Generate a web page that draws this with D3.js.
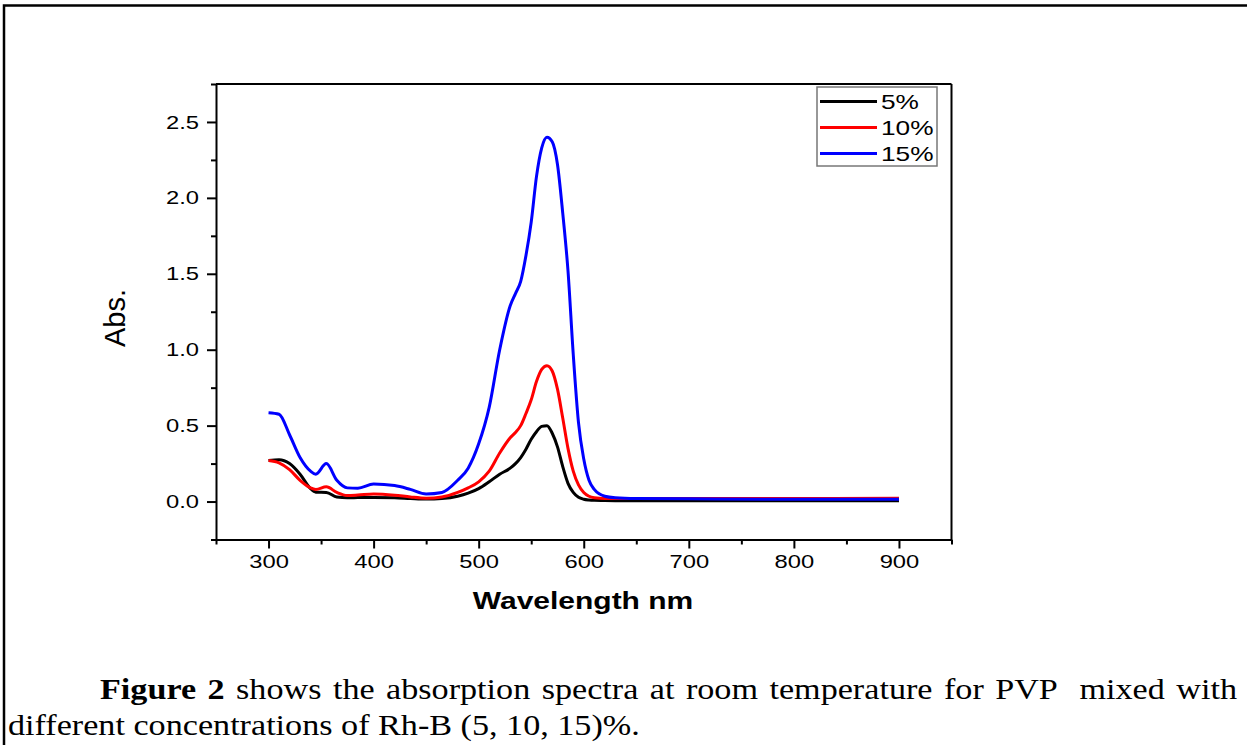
<!DOCTYPE html>
<html>
<head>
<meta charset="utf-8">
<script src="https://cdn.jsdelivr.net/npm/d3@7"></script>
<style>
  body { margin: 0; background: #fff; }
  svg { display: block; }
</style>
</head>
<body>
<script>
// absorption spectra
const wavelength = [300, 310, 320, 330, 340, 345, 355, 365, 375, 385, 400, 420, 435, 450, 465, 480, 490, 500, 510, 520,
  530, 535, 540, 545, 550, 555, 560, 565, 570, 575, 580, 585, 590, 595, 600, 605, 610, 620, 630, 650, 700, 800, 900];
const abs5 = [0.27, 0.275, 0.25, 0.18, 0.085, 0.062, 0.06, 0.03, 0.025, 0.026, 0.027, 0.025, 0.02, 0.016, 0.02, 0.035, 0.055, 0.085, 0.13, 0.18,
  0.22, 0.25, 0.29, 0.345, 0.41, 0.46, 0.495, 0.50, 0.45, 0.36, 0.23, 0.12, 0.06, 0.028, 0.015, 0.01, 0.008, 0.007, 0.006, 0.005, 0.005, 0.005, 0.005];
const abs10 = [0.27, 0.255, 0.21, 0.14, 0.09, 0.08, 0.097, 0.06, 0.04, 0.043, 0.05, 0.042, 0.03, 0.022, 0.03, 0.06, 0.09, 0.13, 0.2, 0.32,
  0.42, 0.455, 0.50, 0.58, 0.67, 0.79, 0.87, 0.895, 0.86, 0.74, 0.55, 0.35, 0.2, 0.11, 0.06, 0.035, 0.025, 0.02, 0.02, 0.02, 0.02, 0.02, 0.022];
const abs15 = [0.585, 0.575, 0.44, 0.29, 0.20, 0.18, 0.25, 0.14, 0.09, 0.088, 0.115, 0.105, 0.08, 0.05, 0.06, 0.14, 0.22, 0.38, 0.62, 1.0,
  1.29, 1.37, 1.45, 1.62, 1.84, 2.14, 2.33, 2.40, 2.37, 2.22, 1.90, 1.52, 0.97, 0.52, 0.28, 0.14, 0.08, 0.035, 0.025, 0.02, 0.018, 0.015, 0.015];

const seriesNames = ["5%", "10%", "15%"];
const seriesColors = ["#000000", "#ff0000", "#0000ff"];

const xTicks = [300, 400, 500, 600, 700, 800, 900];
const yTicks = [0, 0.5, 1.0, 1.5, 2.0, 2.5];

const xLabel = "Wavelength nm";
const yLabel = "Abs.";
const captionBold = "Figure 2";
const captionRest = " shows the absorption spectra at room temperature for PVP  mixed with";
const captionLine2 = "different concentrations of Rh-B (5, 10, 15)%.";

const W = 1247, H = 745;
const plotLeft = 216, plotRight = 951.5, plotTop = 84, plotBottom = 539.5;
// the page image is a bit wider than tall, so horizontal chart text is stretched
const k = 1.25;

const svg = d3.select("body").append("svg")
  .attr("width", W)
  .attr("height", H);

// page frame (top and left edges)
svg.append("path")
  .attr("d", "M4,745 V5.5 H1247")
  .attr("fill", "none")
  .attr("stroke", "#000")
  .attr("stroke-width", 2.5);

const x = d3.scaleLinear().domain([250, 950]).range([plotLeft, plotRight]);
const y = d3.scaleLinear().domain([-0.25, 2.75]).range([plotBottom, plotTop]);

const xMinor = d3.range(250, 951, 50).filter(v => !xTicks.includes(v));
const yMinor = d3.range(-0.25, 2.76, 0.25).filter(v => !yTicks.some(t => Math.abs(t - v) < 1e-6));

const tickFont = "'Liberation Sans', Arial, sans-serif";

// curves
const line = d3.line()
  .x(d => x(d[0]))
  .y(d => y(d[1]))
  .curve(d3.curveMonotoneX);

const allSeries = [abs5, abs10, abs15];
allSeries.forEach((vals, i) => {
  svg.append("path")
    .datum(wavelength.map((w, j) => [w, vals[j]]))
    .attr("d", line)
    .attr("fill", "none")
    .attr("stroke", seriesColors[i])
    .attr("stroke-width", 3)
    .attr("stroke-linejoin", "round");
});

// axes
const gx = svg.append("g")
  .attr("transform", `translate(0,${plotBottom})`)
  .call(d3.axisBottom(x).tickValues(xTicks).tickSize(9).tickSizeOuter(0).tickPadding(6).tickFormat(d3.format("d")));
svg.append("g")
  .attr("transform", `translate(0,${plotBottom})`)
  .call(d3.axisBottom(x).tickValues(xMinor).tickSize(5).tickFormat(""))
  .select(".domain").remove();

const gy = svg.append("g")
  .attr("transform", `translate(${plotLeft},0)`)
  .call(d3.axisLeft(y).tickValues(yTicks).tickSize(9).tickSizeOuter(0).tickPadding(8).tickFormat(d3.format(".1f")));
svg.append("g")
  .attr("transform", `translate(${plotLeft},0)`)
  .call(d3.axisLeft(y).tickValues(yMinor).tickSize(5).tickFormat(""))
  .select(".domain").remove();

svg.selectAll(".tick line").attr("stroke-width", 2);
svg.selectAll(".domain").attr("stroke-width", 2);
svg.selectAll(".tick text")
  .attr("font-family", tickFont)
  .attr("font-size", 19)
  .attr("fill", "#000");

gx.selectAll(".tick text").attr("transform", `scale(${k},1)`);
gy.selectAll(".tick text")
  .attr("x", -17 / k)
  .attr("transform", `scale(${k},1)`);

// top and right edges of the frame
svg.append("line")
  .attr("x1", plotLeft).attr("x2", plotRight).attr("y1", plotTop).attr("y2", plotTop)
  .attr("stroke", "#000").attr("stroke-width", 2);
svg.append("line")
  .attr("x1", plotRight).attr("x2", plotRight).attr("y1", plotTop).attr("y2", plotBottom)
  .attr("stroke", "#000").attr("stroke-width", 2);

// axis titles
svg.append("text")
  .attr("transform", `translate(583,609) scale(${k},1)`)
  .attr("text-anchor", "middle")
  .attr("font-family", tickFont)
  .attr("font-weight", "bold")
  .attr("font-size", 24)
  .text(xLabel);

svg.append("text")
  .attr("transform", "translate(125,318) rotate(-90)")
  .attr("text-anchor", "middle")
  .attr("font-family", tickFont)
  .attr("font-size", 29)
  .text(yLabel);

// legend
const legend = svg.append("g");
legend.append("rect")
  .attr("x", 817).attr("y", 87)
  .attr("width", 120).attr("height", 79)
  .attr("fill", "#fff")
  .attr("stroke", "#777")
  .attr("stroke-width", 1.5);

seriesNames.forEach((name, i) => {
  const ly = 101.5 + i * 26;
  legend.append("line")
    .attr("x1", 820).attr("x2", 877)
    .attr("y1", ly).attr("y2", ly)
    .attr("stroke", seriesColors[i])
    .attr("stroke-width", 3);
  legend.append("text")
    .attr("transform", `translate(881,${ly + 7.5}) scale(${k},1)`)
    .attr("font-family", tickFont)
    .attr("font-size", 21)
    .text(name);
});

// caption under the figure
const serif = "'Liberation Serif', 'Times New Roman', serif";
const capSize = 29;

const cap2 = svg.append("text")
  .attr("font-family", serif)
  .attr("font-size", capSize)
  .text(captionLine2);
// fit the second line to its width in the page
const kc = (640 - 8) / cap2.node().getComputedTextLength();
cap2.attr("transform", `translate(8,735) scale(${kc},1)`);

const cap1 = svg.append("text")
  .attr("transform", `translate(100,699) scale(${kc},1)`)
  .attr("font-family", serif)
  .attr("font-size", capSize)
  .style("white-space", "pre");
cap1.append("tspan").attr("font-weight", "bold").text(captionBold);
cap1.append("tspan").text(captionRest);

// justify the first line to the right margin
const natural = cap1.node().getComputedTextLength();
const nSpaces = (captionBold + captionRest).split(" ").length - 1;
cap1.attr("word-spacing", ((1237 - 100) / kc - natural) / nSpaces);
</script>
</body>
</html>
